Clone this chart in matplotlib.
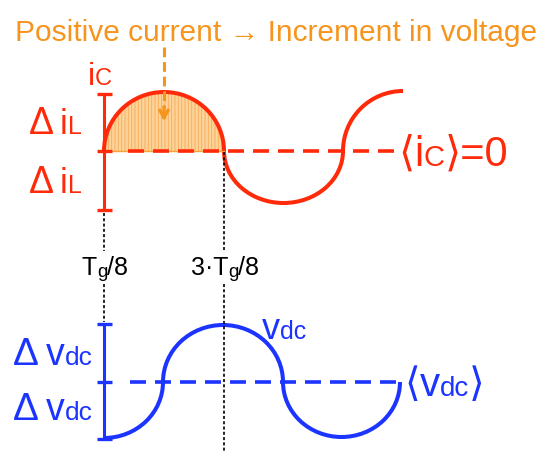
import matplotlib.pyplot as plt
from matplotlib.patches import Arc, Ellipse, Rectangle

plt.rcParams['lines.scale_dashes'] = False
plt.rcParams['hatch.linewidth'] = 0.6

RED = '#FF2A0A'
BLUE = '#1B34FF'
ORANGE = '#F7941D'
FONT = ['Liberation Sans', 'DejaVu Sans']

# picture coordinates (pixels, y downwards)
title = 'Positive current \u2192 Increment in voltage'
t_x = [104, 224]                      # Tg/8 and 3Tg/8
t_label_pre = ['T', '3\u00b7T']
ic_mean = 151
ic_knots = [104, 224, 343, 403]
ic_peaks = [92, 203, 91]
ic_band = [94, 151, 210]
vdc_mean = 382
vdc_knots = [104, 163, 283, 400]
vdc_peaks = [438, 325, 437]
vdc_band = [324, 382, 439]

fig = plt.figure(figsize=(5.5, 4.62), dpi=100)
ax = fig.add_axes([0, 0, 1, 1])
ax.set_xlim(0, 550)
ax.set_ylim(462, 0)
ax.axis('off')
renderer = fig.canvas.get_renderer()


def rich(x, y, parts, color, ha='left'):
    # parts: (text, fontsize, dy, gap after)
    texts = []
    cx = x
    for s, size, dy, gap in parts:
        t = ax.text(cx, y + dy, s, fontsize=size, color=color, ha='left',
                    va='baseline', family=FONT)
        cx += t.get_window_extent(renderer).width + gap
        texts.append(t)
    if ha == 'center':
        shift = (cx - x) / 2
        for t in texts:
            t.set_x(t.get_position()[0] - shift)


def half(x0, x1, mean, peak, color):
    th = (180, 360) if peak < mean else (0, 180)
    ax.add_patch(Arc(((x0 + x1) / 2, mean), x1 - x0, 2 * abs(peak - mean),
                     theta1=th[0], theta2=th[1], color=color, lw=2.9))


def band(x, ys, color):
    ax.plot([x, x], [ys[0], ys[2]], color=color, lw=2.2, solid_capstyle='butt')
    for y in ys:
        ax.plot([x - 7.5, x + 7.5], [y, y], color=color, lw=2.4, solid_capstyle='butt')


# title + orange arrow
ax.text(276, 41, title, fontsize=21.5, color=ORANGE, ha='center', va='baseline', family=FONT)
ax.plot([164, 164], [47, 108], color=ORANGE, lw=2.2, dashes=(7, 3.5))
ax.annotate('', xy=(164, 124), xytext=(164, 104),
            arrowprops=dict(arrowstyle='->,head_length=0.55,head_width=0.3', color=ORANGE, lw=2.4))

# shaded positive lobe
x0, x1 = ic_knots[0], ic_knots[1]
lobe = Ellipse(((x0 + x1) / 2, ic_mean), x1 - x0, 2 * (ic_mean - ic_peaks[0]),
               facecolor='#FDD399', edgecolor='#F8AA55', lw=0, hatch='|||||')
ax.add_patch(lobe)
lobe.set_clip_path(Rectangle((x0, 0), x1 - x0, ic_mean, transform=ax.transData))
ax.plot([x0, x1], [ic_mean, ic_mean], color='#F8A33A', lw=1)

# dotted time markers
ax.plot([t_x[0]] * 2, [213, 251], color='k', lw=1.2, dashes=(2.2, 1.6))
ax.plot([t_x[0]] * 2, [284, 322], color='k', lw=1.2, dashes=(2.2, 1.6))
ax.plot([t_x[1]] * 2, [152, 251], color='k', lw=1.2, dashes=(2.2, 1.6))
ax.plot([t_x[1]] * 2, [284, 452], color='k', lw=1.2, dashes=(2.2, 1.6))
for x, pre in zip(t_x, t_label_pre):
    rich(x + 1, 275, [(pre, 18, 0, 0), ('g', 13.5, 2, 0), ('/8', 18, 0, 0)], 'k', ha='center')

# current i_C
ax.plot([128, 395], [ic_mean, ic_mean], color=RED, lw=2.6, dashes=(11.5, 6.5))
half(ic_knots[0], ic_knots[1], ic_mean, ic_peaks[0], RED)
half(ic_knots[1], ic_knots[2], ic_mean, ic_peaks[1], RED)
ax.add_patch(Arc((ic_knots[3], ic_mean), 2 * (ic_knots[3] - ic_knots[2]),
                 2 * (ic_mean - ic_peaks[2]), theta1=180, theta2=270, color=RED, lw=2.9))
band(ic_knots[0], ic_band, RED)
rich(88, 85, [('i', 23, 0, 0), ('C', 17, 0, 0)], RED)
for y in (134, 193):
    rich(29, y, [('\u0394', 27, 0, 6), ('i', 25, 0, 0), ('L', 18, 0, 0)], RED)
rich(398, 166, [('\u27e8', 30, 0, 0), ('i', 30, 0, 0), ('C', 21, 0, 0),
                ('\u27e9=0', 30, 0, 0)], RED)

# voltage v_dc
ax.plot([130, 400], [vdc_mean, vdc_mean], color=BLUE, lw=2.6, dashes=(11.5, 6.5))
ax.add_patch(Arc((vdc_knots[0], vdc_mean), 2 * (vdc_knots[1] - vdc_knots[0]),
                 2 * (vdc_peaks[0] - vdc_mean), theta1=0, theta2=90, color=BLUE, lw=2.9))
half(vdc_knots[1], vdc_knots[2], vdc_mean, vdc_peaks[1], BLUE)
half(vdc_knots[2], vdc_knots[3], vdc_mean, vdc_peaks[2], BLUE)
band(vdc_knots[0], vdc_band, BLUE)
for y in (365, 420):
    rich(13, y, [('\u0394', 28, 0, 7), ('v', 27, 0, 0), ('dc', 19, 0, 0)], BLUE)
rich(262, 339, [('v', 26, 0, 0), ('dc', 18, 0, 0)], BLUE)
rich(404, 396, [('\u27e8', 29, 0, 0), ('v', 29, 0, 0), ('dc', 20, 0, 0), ('\u27e9', 29, 0, 0)], BLUE)

fig.savefig('out.png', dpi=100)
